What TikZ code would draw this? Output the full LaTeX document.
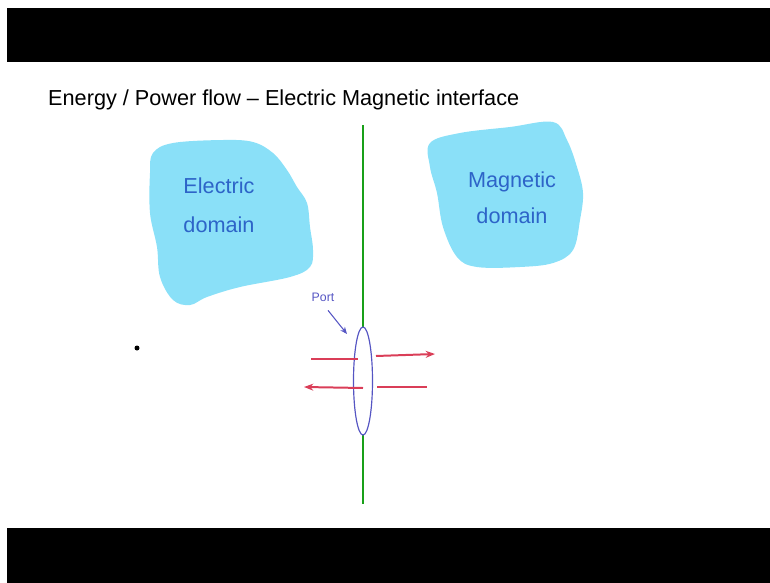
\documentclass[tikz,border=0pt]{standalone}
\usepackage{fontspec}
\setmainfont{Liberation Sans}
\usetikzlibrary{positioning,shapes.geometric,arrows.meta}
\definecolor{DomainCyan}{RGB}{138,224,248}
\definecolor{InkBlue}{RGB}{45,100,200}
\definecolor{PortViolet}{RGB}{85,85,195}
\definecolor{FlowRed}{RGB}{218,62,88}
\definecolor{LineGreen}{RGB}{25,160,25}
\tikzset{
  blob/.style={fill=DomainCyan,draw=none},
  dtext/.style={text=InkBlue,font=\fontsize{18.5}{20}\selectfont,
                anchor=base,inner sep=0pt},
  ttext/.style={font=\fontsize{18.5}{20}\selectfont,anchor=base west,inner sep=0pt},
  ptext/.style={text=PortViolet,font=\fontsize{10.5}{12}\selectfont,
                anchor=base,inner sep=0pt},
  portell/.style={ellipse,draw=PortViolet,fill=white,line width=1pt,
                  minimum width=0.57cm,minimum height=3.24cm,inner sep=0pt},
  flow/.style={FlowRed,line width=1.7pt},
  flowarr/.style={flow,-{Stealth[length=8pt,width=6pt]}},
  parr/.style={-{Stealth[length=6pt,width=5pt]},PortViolet,line width=0.9pt},
}
\begin{document}
\begin{tikzpicture}[x=0.03cm,y=-0.03cm]
  \useasboundingbox (0,0) rectangle (770,583);
  \fill[black] (7,8) rectangle (770,62);
  \fill[black] (7,528) rectangle (770,583);
  % title
  \node[ttext] (t) at (48,105) {Energy / Power flow -- Electric Magnetic interface};
  % domains
  \fill[blob] plot[smooth cycle,tension=0.6] coordinates {
    (153,153) (173,143) (223,140) (253,142) (273,153) (287,170) (297,187)
    (307,203) (310,227) (313,250) (310,267) (290,277) (240,287) (207,297)
    (190,305) (173,300) (160,277) (157,247) (150,213) (150,173)};
  \fill[blob] plot[smooth cycle,tension=0.6] coordinates {
    (430,143) (460,133) (510,127) (553,122) (567,140) (577,167) (583,193)
    (580,220) (573,250) (553,263) (520,267) (477,267) (457,257) (443,227)
    (437,193) (430,167)};
  \node[dtext] (e1) at (219,193) {Electric};
  \node[dtext,below=34pt of e1.base,anchor=base] (e2) {domain};
  \node[dtext] (m1) at (512,187) {Magnetic};
  \node[dtext,below=31pt of m1.base,anchor=base] (m2) {domain};
  % interface and port
  \coordinate (gt) at (363,125);
  \coordinate (gb) at (363,504);
  \draw[LineGreen,line width=1.2pt] (gt) -- (gb);
  \node[portell] (port) at (363,381) {};
  \node[ptext] (pl) at (323,301) {Port};
  \coordinate (ptip) at (347,334);
  \draw[parr] ([shift={(5,9)}]pl.south) -- (ptip);
  % power flow
  \coordinate (a1) at (311,359); \coordinate (a2) at (358,359);
  \coordinate (a3) at (376,356); \coordinate (a4) at (435,354);
  \coordinate (b1) at (363,388); \coordinate (b2) at (304,387);
  \coordinate (b3) at (377,387); \coordinate (b4) at (427,387);
  \draw[flow] (a1) -- (a2);
  \draw[flowarr] (a3) -- (a4);
  \draw[flowarr] (b1) -- (b2);
  \draw[flow] (b3) -- (b4);
  \fill (137,348) circle (2.5);
\end{tikzpicture}
\end{document}
